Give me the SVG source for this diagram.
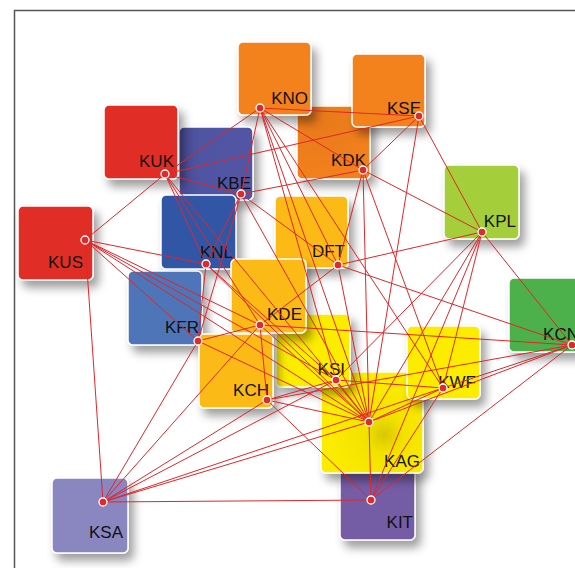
<svg xmlns="http://www.w3.org/2000/svg" width="575" height="568" viewBox="0 0 575 568">
<defs>
<filter id="sh" x="-30%" y="-30%" width="170%" height="170%">
<feDropShadow dx="5" dy="7" stdDeviation="5" flood-color="#000" flood-opacity="0.38"/>
</filter>
<radialGradient id="gAG" cx="0.62" cy="0.62" r="0.55">
<stop offset="0" stop-color="#D9C800"/>
<stop offset="0.35" stop-color="#F3E200"/>
<stop offset="1" stop-color="#FCEC00"/>
</radialGradient>
<linearGradient id="gBE" x1="0" y1="0" x2="1" y2="0">
<stop offset="0" stop-color="#474C92"/>
<stop offset="0.3" stop-color="#5054A2"/>
<stop offset="1" stop-color="#5155A3"/>
</linearGradient>
<radialGradient id="gDK" cx="0.3" cy="0.2" r="0.8">
<stop offset="0" stop-color="#E8791C"/>
<stop offset="1" stop-color="#F2801F"/>
</radialGradient>
</defs>
<style>
.box{stroke:#fff;stroke-width:1.5;filter:url(#sh)}
.lbl{font-family:"Liberation Sans",Arial,sans-serif;font-size:17px;fill:#111;text-anchor:end}
.e{stroke:#E0262A;stroke-width:1;fill:none}
.dot{fill:#E02A2A;stroke:#fff;stroke-width:1.3}
.org{fill:#F4821F}.red{fill:#E02D25}.amb{fill:#FBBA12}.yel{fill:#FCEC00}
</style>
<rect width="575" height="568" fill="#fff"/>
<path d="M14.5 568 V10.5 H575" fill="none" stroke="#555" stroke-width="1.5"/>

<g id="KDK"><rect class="box" x="297" y="106" width="73" height="73" rx="5" fill="url(#gDK)"/><text class="lbl" x="366" y="166">KDK</text></g>
<g id="KNO"><rect class="box org" x="238" y="42" width="73" height="73" rx="5"/><text class="lbl" x="308" y="104">KNO</text></g>
<g id="KSE"><rect class="box org" x="352" y="54" width="73" height="73" rx="5"/><text class="lbl" x="421" y="114">KSE</text></g>
<g id="KBE"><rect class="box" x="179" y="127" width="74" height="73" rx="5" fill="url(#gBE)"/><text class="lbl" x="251" y="189">KBE</text></g>
<g id="KUK"><rect class="box red" x="104" y="105" width="74" height="74" rx="5"/><text class="lbl" x="174" y="167">KUK</text></g>
<g id="KNL"><rect class="box" x="161" y="195" width="75" height="74" rx="5" fill="#3257A6"/><text class="lbl" x="233" y="258">KNL</text></g>
<g id="DFT"><rect class="box amb" x="275" y="196" width="73" height="72" rx="5"/><text class="lbl" x="345" y="257">DFT</text></g>
<g id="KUS"><rect class="box red" x="18" y="206" width="75" height="74" rx="5"/><text class="lbl" x="83" y="268">KUS</text></g>
<g id="KPL"><rect class="box" x="444" y="165" width="75" height="74" rx="5" fill="#A5CE3A"/><text class="lbl" x="516" y="227">KPL</text></g>
<g id="KFR"><rect class="box" x="128" y="271" width="74" height="74" rx="5" fill="#4E74B7"/><text class="lbl" x="199" y="333">KFR</text></g>
<g id="KIT"><rect class="box" x="340" y="466" width="75" height="74" rx="5" fill="#755DA6"/><text class="lbl" x="413" y="528">KIT</text></g>
<g id="KAG"><rect class="box" x="321" y="372" width="102" height="101" rx="5" fill="url(#gAG)"/><text class="lbl" x="420" y="467">KAG</text></g>
<g id="KSI"><rect class="box yel" x="276" y="314" width="74" height="73" rx="5"/><text class="lbl" x="345" y="375">KSI</text></g>
<g id="KDE"><rect class="box amb" x="231" y="259" width="75" height="74" rx="5"/><text class="lbl" x="302" y="320">KDE</text></g>
<g id="KCH"><rect class="box amb" x="199" y="334" width="74" height="74" rx="5"/><text class="lbl" x="269" y="396">KCH</text></g>
<g id="KWF"><rect class="box yel" x="407" y="326" width="73" height="73" rx="5"/><text class="lbl" x="476" y="388">KWF</text></g>
<g id="KCN"><rect class="box" x="509" y="278" width="78" height="74" rx="5" fill="#4DB14B"/><text class="lbl" x="579" y="340">KCN</text></g>
<g id="KSA"><rect class="box" x="52" y="478" width="76" height="75" rx="5" fill="#8A86C0"/><text class="lbl" x="123" y="538">KSA</text></g>

<g id="connectors">
<path class="e" d="M260 108L419 116M260 108L165 174M260 108L363 170M260 108L241 194M260 108L338 265M260 108L336 380M260 108L369 422M260 108L443 388"/>
<path class="e" d="M419 116L165 174M419 116L363 170M419 116L482 232M419 116L369 422"/>
<path class="e" d="M363 170L241 194M363 170L482 232M363 170L338 265M363 170L369 422M363 170L443 388"/>
<path class="e" d="M165 174L85 240M165 174L241 194M165 174L206 264M165 174L260 325M165 174L369 422"/>
<path class="e" d="M241 194L206 264M241 194L198 341M241 194L338 265M241 194L369 422"/>
<path class="e" d="M482 232L338 265M482 232L572 345M482 232L369 422M482 232L443 388M482 232L336 380M482 232L371 500"/>
<path class="e" d="M85 240L103 502M85 240L206 264M85 240L260 325M85 240L336 380M85 240L369 422M85 240L198 341"/>
<path class="e" d="M206 264L198 341M206 264L369 422M206 264L336 380"/>
<path class="e" d="M338 265L260 325M338 265L572 345M338 265L369 422"/>
<path class="e" d="M260 325L198 341M260 325L572 345M260 325L103 502M260 325L267 400M260 325L369 422"/>
<path class="e" d="M198 341L103 502M198 341L369 422"/>
<path class="e" d="M572 345L443 388M572 345L369 422M572 345L371 500M572 345L267 400"/>
<path class="e" d="M336 380L267 400M336 380L369 422M336 380L443 388M336 380L103 502"/>
<path class="e" d="M443 388L371 500M443 388L369 422M443 388L103 502"/>
<path class="e" d="M267 400L103 502M267 400L371 500M267 400L369 422"/>
<path class="e" d="M369 422L371 500M369 422L103 502M371 500L103 502"/>
</g>

<g id="dots">
<circle class="dot" cx="260" cy="108" r="4"/>
<circle class="dot" cx="419" cy="116" r="4"/>
<circle class="dot" cx="363" cy="170" r="4"/>
<circle class="dot" cx="165" cy="174" r="4"/>
<circle class="dot" cx="241" cy="194" r="4"/>
<circle class="dot" cx="482" cy="232" r="4"/>
<circle class="dot" cx="85" cy="240" r="4"/>
<circle class="dot" cx="206" cy="264" r="4"/>
<circle class="dot" cx="338" cy="265" r="4"/>
<circle class="dot" cx="260" cy="325" r="4"/>
<circle class="dot" cx="198" cy="341" r="4"/>
<circle class="dot" cx="572" cy="345" r="4"/>
<circle class="dot" cx="336" cy="380" r="4"/>
<circle class="dot" cx="443" cy="388" r="4"/>
<circle class="dot" cx="267" cy="400" r="4"/>
<circle class="dot" cx="369" cy="422" r="4"/>
<circle class="dot" cx="371" cy="500" r="4"/>
<circle class="dot" cx="103" cy="502" r="4"/>
</g>
</svg>
